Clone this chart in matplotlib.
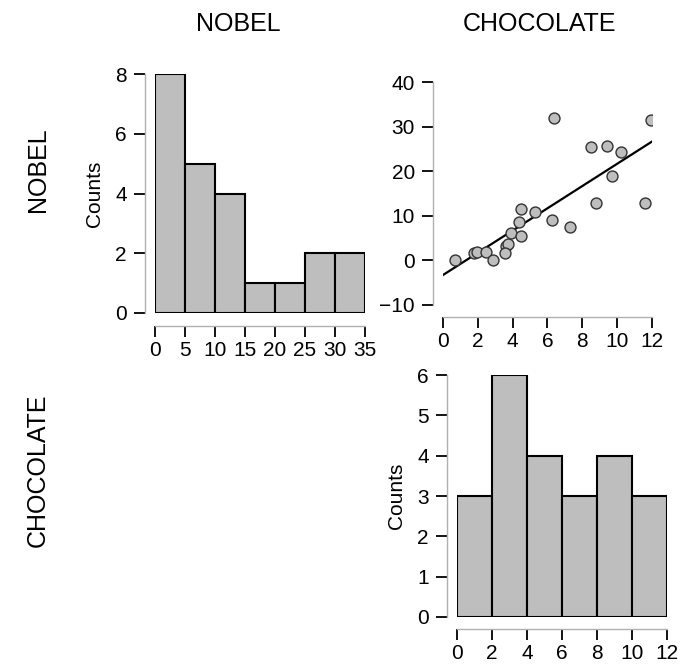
import matplotlib as mpl
import matplotlib.pyplot as plt
import numpy as np

mpl.use("Agg")
plt.rcParams["font.family"] = ["Liberation Sans", "DejaVu Sans"]

# paired observations (chocolate consumption, nobel laureates)
chocolate = [0.67, 1.78, 1.97, 2.49, 2.89, 3.6, 3.71, 3.58, 3.89, 4.38, 4.48, 4.5,
             5.26, 6.37, 6.28, 7.29, 8.48, 8.78, 9.4, 9.7, 10.2, 11.92, 11.58]
nobel = [0.07, 1.6, 1.9, 1.9, 0.07, 3.2, 3.6, 1.7, 6.1, 8.7, 11.6, 5.5,
         10.8, 31.9, 9.0, 7.6, 25.4, 12.8, 25.7, 19.0, 24.4, 31.5, 12.8]

nobel_bins = [0, 5, 10, 15, 20, 25, 30, 35]
chocolate_bins = [0, 2, 4, 6, 8, 10, 12]

W, H = 698, 670
BAR = "#bebebe"


def px_axes(fig, x0, x1, ytop, ybot):
    return fig.add_axes([x0 / W, 1 - ybot / H, (x1 - x0) / W, (ybot - ytop) / H])


def style(ax, xb, yb, xoff, yoff, xticks, yticks):
    for s in ("top", "right"):
        ax.spines[s].set_visible(False)
    ax.spines["left"].set_position(("outward", yoff * 0.72))
    ax.spines["bottom"].set_position(("outward", xoff * 0.72))
    ax.spines["left"].set_bounds(*yb)
    ax.spines["bottom"].set_bounds(*xb)
    for s in ("left", "bottom"):
        ax.spines[s].set_color("#b0b0b0")
        ax.spines[s].set_linewidth(1)
    ax.set_xticks(xticks)
    ax.set_yticks(yticks)
    ax.tick_params(length=8, width=1.3, color="black", labelsize=15)
    ax.tick_params(axis="y", pad=5)
    ax.tick_params(axis="x", pad=3)
    ax.patch.set_visible(False)


fig = plt.figure(figsize=(W / 100, H / 100), dpi=100)

# NOBEL histogram
ax1 = px_axes(fig, 155, 365, 74, 313)
ax1.hist(nobel, bins=nobel_bins, color=BAR, edgecolor="black", linewidth=1.5)
ax1.set_xlim(0, 35)
ax1.set_ylim(0, 8)
style(ax1, (0, 35), (0, 8), 13, 10, nobel_bins, [0, 2, 4, 6, 8])
ax1.set_ylabel("Counts", fontsize=15, labelpad=8)

# scatter NOBEL vs CHOCOLATE
ax2 = px_axes(fig, 443, 652, 82, 305)
ax2.scatter(chocolate, nobel, s=62, color=BAR, edgecolor="#333333", linewidth=1, zorder=3)
slope, intercept = np.polyfit(chocolate, nobel, 1)
xs = np.array([0, 12])
ax2.plot(xs, intercept + slope * xs, color="black", linewidth=1.6, zorder=2)
ax2.set_xlim(0, 12)
ax2.set_ylim(-10, 40)
style(ax2, (0, 12), (-10, 40), 12, 10, [0, 2, 4, 6, 8, 10, 12], [-10, 0, 10, 20, 30, 40])

# CHOCOLATE histogram
ax3 = px_axes(fig, 457, 667, 375, 617)
ax3.hist(chocolate, bins=chocolate_bins, color=BAR, edgecolor="black", linewidth=1.5)
ax3.set_xlim(0, 12)
ax3.set_ylim(0, 6)
style(ax3, (0, 12), (0, 6), 12, 10, chocolate_bins, [0, 1, 2, 3, 4, 5, 6])
ax3.set_ylabel("Counts", fontsize=15, labelpad=8)

# column / row headers
fig.text(238 / W, 1 - 24 / H, "NOBEL", ha="center", va="center", fontsize=18)
fig.text(540 / W, 1 - 24 / H, "CHOCOLATE", ha="center", va="center", fontsize=18)
fig.text(38 / W, 1 - 170 / H, "NOBEL", ha="center", va="center", rotation=90, fontsize=18)
fig.text(38 / W, 1 - 470 / H, "CHOCOLATE", ha="center", va="center", rotation=90, fontsize=18)

fig.savefig("out.png", dpi=100)
plt.close(fig)
